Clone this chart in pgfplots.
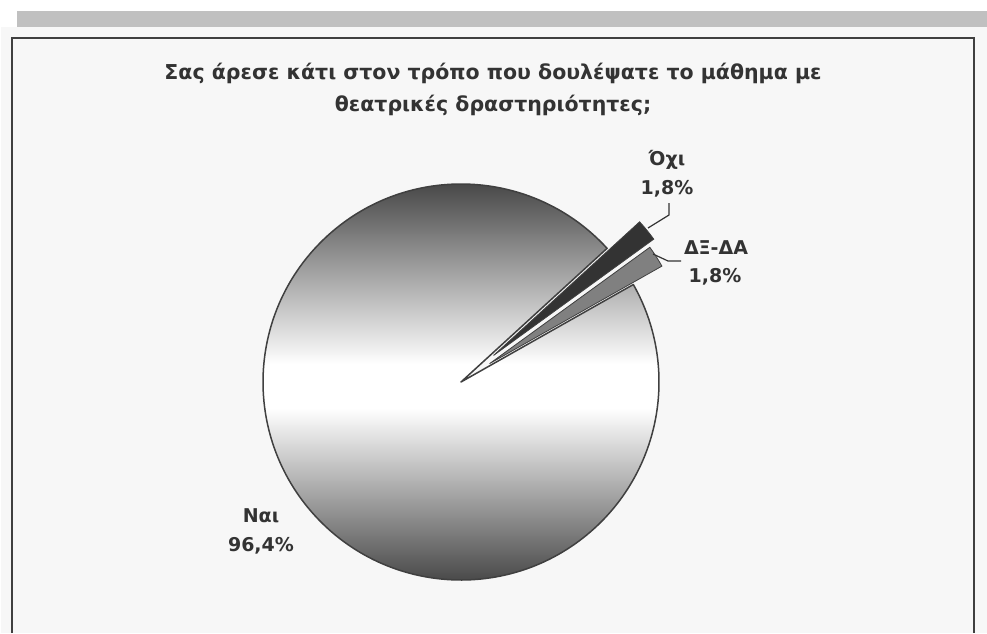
\documentclass[border=0pt]{standalone}
\usepackage{pgfplots}
\pgfplotsset{compat=1.18}
\usepackage{pgfplotstable}
\usetikzlibrary{calc}
\usepackage{fontspec}
\setmainfont{DejaVu Sans}
\definecolor{pieDark}{HTML}{333333}
\definecolor{pieGray}{HTML}{808080}
\definecolor{edge}{HTML}{404040}
\definecolor{txt}{HTML}{333333}
\definecolor{band}{HTML}{C0C0C0}
\definecolor{chartbg}{HTML}{F7F7F7}
\pgfdeclareverticalshading{pieshade}{100bp}{color(0bp)=(pieDark); color(25bp)=(pieDark); color(47bp)=(white); color(52bp)=(white); color(75bp)=(pieDark); color(100bp)=(pieDark)}
\pgfplotstableread{
label value explode
Nai 96.4 0
DXDA 1.8 34
Ochi 1.8 42
}\piedata
\pgfplotstablegetelem{0}{value}\of\piedata \pgfmathsetmacro\spA{\pgfplotsretval*3.6}%
\pgfplotstablegetelem{1}{value}\of\piedata \pgfmathsetmacro\spB{\pgfplotsretval*3.6}%
\pgfplotstablegetelem{2}{value}\of\piedata \pgfmathsetmacro\spC{\pgfplotsretval*3.6}%
\pgfplotstablegetelem{1}{explode}\of\piedata \pgfmathsetmacro\exB{\pgfplotsretval}%
\pgfplotstablegetelem{2}{explode}\of\piedata \pgfmathsetmacro\exC{\pgfplotsretval}%
\pgfmathsetmacro\bS{29.5}%
\pgfmathsetmacro\bE{\bS+\spB}%
\pgfmathsetmacro\cS{\bE}%
\pgfmathsetmacro\cE{\cS+\spC}%
\pgfmathsetmacro\aS{\cE}%
\pgfmathsetmacro\aE{\aS+\spA}%
\pgfmathsetmacro\bM{(\bS+\bE)/2}%
\pgfmathsetmacro\cM{(\cS+\cE)/2}%
\begin{document}%
\begin{tikzpicture}
\begin{axis}[
  scale only axis, width=987pt, height=633pt,
  xmin=0, xmax=987, ymin=0, ymax=633, y dir=reverse,
  hide axis, clip=true,
]
\fill[white] (axis cs:0,0) rectangle (axis cs:987,633);
\fill[band] (axis cs:17,11) rectangle (axis cs:987,27);
\fill[chartbg] (axis cs:1,27) rectangle (axis cs:987,633);
\draw[edge, line width=2.2pt] (axis cs:12,633) -- (axis cs:12,38) -- (axis cs:974,38) -- (axis cs:974,633);
% title
\node[anchor=base, text=txt, font=\bfseries\fontsize{20.5}{20.5}\selectfont] at (axis cs:493,79) {Σας άρεσε κάτι στον τρόπο που δουλέψατε το μάθημα με};
\node[anchor=base, text=txt, font=\bfseries\fontsize{20.5}{20.5}\selectfont] at (axis cs:493,111) {θεατρικές δραστηριότητες;};
% pie: Nai
\shade[shading=pieshade, draw=edge, line width=1.5pt, line join=round]
  (axis cs:461,382) -- ++(\aS:198pt) arc[start angle=\aS, end angle=\aE, radius=198pt] -- cycle;
% DX-DA (exploded)
\filldraw[fill=pieGray, draw=edge, line width=0.8pt]
  ($(axis cs:461,382)+(\bM:\exB pt)$) -- ++(\bS:198pt) arc[start angle=\bS, end angle=\bE, radius=198pt] -- cycle;
% Ochi (exploded)
\filldraw[fill=pieDark, draw=edge, line width=0.8pt]
  ($(axis cs:461,382)+(\cM:\exC pt)$) -- ++(\cS:198pt) arc[start angle=\cS, end angle=\cE, radius=198pt] -- cycle;
% leader lines
\draw[txt, line width=1.2pt] (axis cs:648,228) -- (axis cs:669,215) -- (axis cs:669,203);
\draw[txt, line width=1.2pt] (axis cs:653,254) -- (axis cs:668,261) -- (axis cs:681,261);
% labels
\node[anchor=base, text=txt, font=\bfseries\fontsize{19}{19}\selectfont] at (axis cs:667,165) {Όχι};
\node[anchor=base, text=txt, font=\bfseries\fontsize{19}{19}\selectfont] at (axis cs:667,194) {1,8\%};
\node[anchor=base, text=txt, font=\bfseries\fontsize{19}{19}\selectfont] at (axis cs:716,254) {ΔΞ-ΔΑ};
\node[anchor=base, text=txt, font=\bfseries\fontsize{19}{19}\selectfont] at (axis cs:715,282) {1,8\%};
\node[anchor=base, text=txt, font=\bfseries\fontsize{19}{19}\selectfont] at (axis cs:261,522) {Ναι};
\node[anchor=base, text=txt, font=\bfseries\fontsize{19}{19}\selectfont] at (axis cs:261,551) {96,4\%};
\end{axis}
\end{tikzpicture}%
\end{document}
